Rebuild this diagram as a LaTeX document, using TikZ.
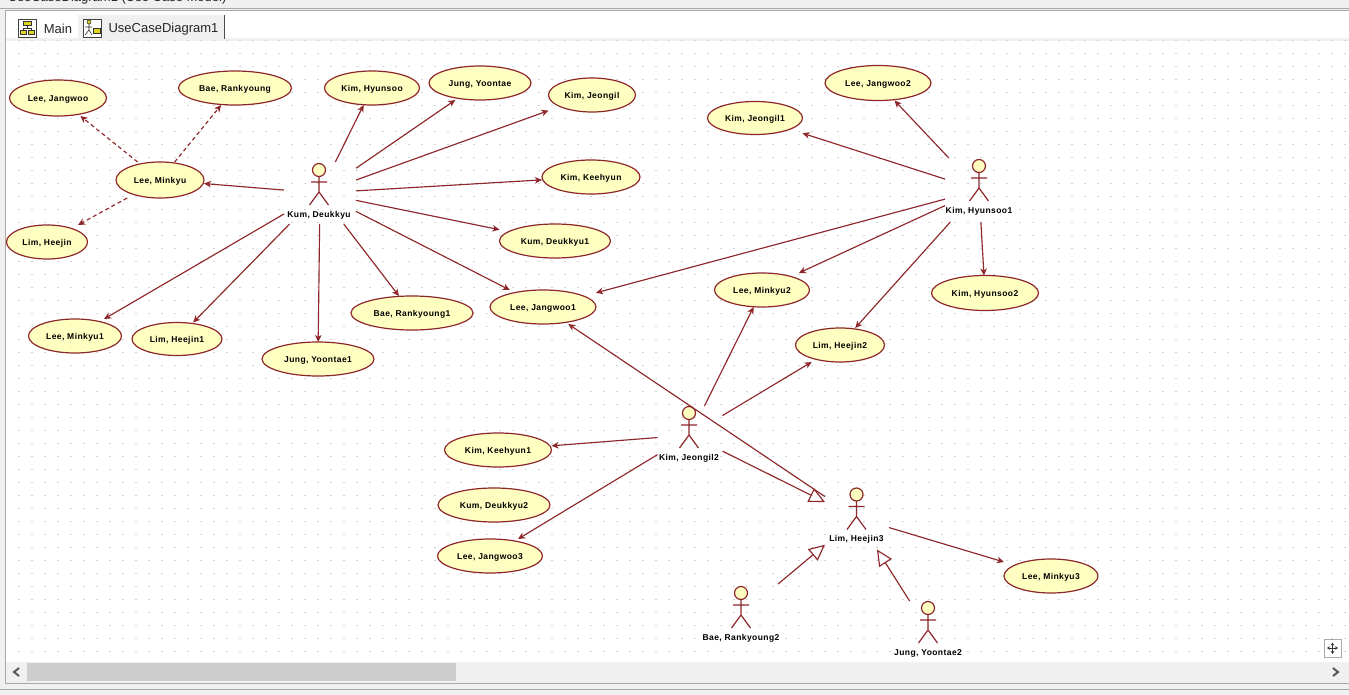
\documentclass[tikz,border=0pt]{standalone}
\usepackage{fontspec}
\setmainfont{Liberation Sans}
\newfontfamily\umlfont[LetterSpace=5]{Liberation Sans}
\usetikzlibrary{arrows.meta,shapes.geometric}
\definecolor{umlred}{HTML}{8E272B}
\definecolor{umlfill}{HTML}{FFFFC2}
\definecolor{chrome}{HTML}{F0F0F0}
\definecolor{edgegray}{HTML}{A9A9A9}
\definecolor{griddot}{HTML}{D4D4D4}
\definecolor{thumb}{HTML}{CDCDCD}
\tikzset{
  caseshape/.style={ellipse,draw=umlred,line width=1.2pt,fill=umlfill,inner sep=0pt,outer sep=0pt},
  casebox/.style={rectangle,inner sep=0pt,outer sep=0pt,text height=7.5pt,text depth=0pt,font=\umlfont\fontsize{8.5}{9}\selectfont\bfseries,text=black},
  actorbox/.style={rectangle,inner sep=0pt,outer sep=0pt},
  actorlabel/.style={inner sep=0pt,font=\umlfont\fontsize{8.5}{9}\selectfont\bfseries,text=black},
  actorline/.style={draw=umlred,line width=1.2pt},
  assoc/.style={draw=umlred,line width=1.15pt,-{Stealth[length=7pt,width=6.5pt,inset=2pt]}},
  dep/.style={assoc,dash pattern=on 4pt off 3pt},
  gen/.style={draw=umlred,line width=1.15pt,-{Triangle[open,length=16pt,width=15pt]}},
  tabtext/.style={inner sep=0pt,font=\fontsize{13}{15}\selectfont,text=black!85},
  icon/.style={draw=black!75,line width=.8pt,fill=white},
  iconbar/.style={draw=black!80,line width=.6pt,fill=yellow!85!black},
  chevron/.style={draw=black!65,line width=2pt}
}
\newcommand{\umlcase}[6]{% name, x, y, width, height, text
  \node[caseshape,minimum width=#4pt,minimum height=#5pt] (#1shape) at (#2,#3) {};
  \node[casebox,minimum width=#4pt,minimum height=#5pt] (#1) at (#2,#3) {#6};
}
\newcommand{\umlactor}[8]{% name, head x, head y, label, box x, box y, box w, box h
  \node[actorbox,minimum width=#7pt,minimum height=#8pt] (#1) at (#5,#6) {};
  \draw[actorline,fill=umlfill] (#2,#3) circle (6.5);
  \draw[actorline] (#2-8,#3+12) -- (#2+8,#3+12) (#2,#3+6.5) -- (#2,#3+22) -- (#2-9.5,#3+35) (#2,#3+22) -- (#2+9.5,#3+35);
  \node[actorlabel] (#1label) at (#2,#3+45) {#4};
}
\begin{document}
\begin{tikzpicture}[x=1pt,y=-1pt]
\useasboundingbox (0,0) rectangle (1349,695);
% window chrome
\fill[chrome] (0,0) rectangle (1349,695);
\begin{scope}
  \clip (0,0) rectangle (1349,4);
  \node[anchor=base west,inner sep=0pt,font=\fontsize{13}{15}\selectfont,text=black!85] (wintitle) at (8,2) {UseCaseDiagram1 (Use Case Model)};
\end{scope}
\draw[edgegray,line width=1pt] (0,8.5) -- (1349,8.5);
\fill[white] (5.5,11) rectangle (1349,683);
\draw[edgegray,line width=1pt] (1349,10.5) -- (5.5,10.5) -- (5.5,683.5) -- (1349,683.5);
\draw[edgegray,line width=1pt] (0,689) -- (1349,689);
% tabs
\fill[chrome] (78,15) rectangle (224,40);
\fill[chrome] (6,38.5) rectangle (1349,41);
\draw[black!70,line width=1pt] (224.5,15) -- (224.5,39);
\node[tabtext] (tabmain) at (58,29) {Main};
\node[tabtext] (tabuc) at (163.5,29) {UseCaseDiagram1};
\draw[icon] (18,19) rectangle (36,37);
\draw[iconbar] (23,21) rectangle (31,25);
\draw[iconbar] (20,30) rectangle (26,34);
\draw[iconbar] (28,30) rectangle (34,34);
\draw[black!80,line width=.6pt] (27,25) -- (27,28) (23,30) -- (23,28) -- (31,28) -- (31,30);
\draw[icon] (83,19) rectangle (101,37);
\draw[iconbar] (89,22) circle (2);
\draw[black!80,line width=.6pt] (85,27) -- (92,27) (89,24) -- (89,30) -- (85,35) (89,30) -- (92,35);
\draw[iconbar] (93,28) rectangle (100,33);
% grid of dots
\foreach \gx in {0,...,102} {
  \foreach \gy in {0,...,47} {
    \fill[griddot] ({19+13*\gx-.6},{42+13*\gy-.6}) rectangle +(1.2,-1.2);
  }
}
% scrollbar
\fill[chrome] (6,662) rectangle (1349,683);
\fill[thumb] (27,663) rectangle (456,681);
\draw[chevron] (19,668) -- (14,672) -- (19,676);
\draw[chevron] (1333,668) -- (1338,672) -- (1333,676);
% pan button
\draw[edgegray,line width=1pt,fill=white] (1324,639.5) rectangle (1341,657);
\draw[black!80,line width=.9pt,{Stealth[length=3pt,width=3.5pt]}-{Stealth[length=3pt,width=3.5pt]}] (1327,648) -- (1338,648);
\draw[black!80,line width=.9pt,{Stealth[length=3pt,width=3.5pt]}-{Stealth[length=3pt,width=3.5pt]}] (1332.5,642.5) -- (1332.5,654);
% use cases
\umlcase{ljw}{58}{98}{97}{36}{Lee, Jangwoo}
\umlcase{brk}{235}{88}{113}{34}{Bae, Rankyoung}
\umlcase{khs}{372}{88}{95}{34}{Kim, Hyunsoo}
\umlcase{jyt}{480}{83}{102}{34}{Jung, Yoontae}
\umlcase{kji}{592}{95}{87}{34}{Kim, Jeongil}
\umlcase{ljw2}{878}{83}{106}{35}{Lee, Jangwoo2}
\umlcase{kji1}{755}{118}{95}{33}{Kim, Jeongil1}
\umlcase{lmk}{160}{180}{88}{36}{Lee, Minkyu}
\umlcase{kkh}{591}{177}{98}{34}{Kim, Keehyun}
\umlcase{kdk1}{555}{241}{111}{34}{Kum, Deukkyu1}
\umlcase{lhj}{47}{242}{81}{34}{Lim, Heejin}
\umlcase{lmk1}{75}{336}{93}{34}{Lee, Minkyu1}
\umlcase{lhj1}{177}{339}{90}{33}{Lim, Heejin1}
\umlcase{jyt1}{318}{359}{112}{34}{Jung, Yoontae1}
\umlcase{brk1}{412}{313}{122}{34}{Bae, Rankyoung1}
\umlcase{ljw1}{543}{307}{106}{34}{Lee, Jangwoo1}
\umlcase{lmk2}{762}{290}{95}{34}{Lee, Minkyu2}
\umlcase{khs2}{985}{293}{107}{35}{Kim, Hyunsoo2}
\umlcase{lhj2}{840}{345}{89}{34}{Lim, Heejin2}
\umlcase{kkh1}{498}{450}{107}{34}{Kim, Keehyun1}
\umlcase{kdk2}{494}{505}{112}{34}{Kum, Deukkyu2}
\umlcase{ljw3}{490}{556}{105}{34}{Lee, Jangwoo3}
\umlcase{lmk3}{1051}{576}{94}{34}{Lee, Minkyu3}
% actors
\umlactor{kum}{319}{170}{Kum, Deukkyu}{320}{193}{72}{62}
\umlactor{hyun}{979}{166}{Kim, Hyunsoo1}{979}{190}{68}{64}
\umlactor{jeong}{689}{413}{Kim, Jeongil2}{690}{435}{65}{58}
\umlactor{hee}{856.5}{494.5}{Lim, Heejin3}{857}{518}{64}{63}
\umlactor{bae}{741}{593}{Bae, Rankyoung2}{741}{615}{74}{62}
\umlactor{jung}{928}{608}{Jung, Yoontae2}{928}{630}{72}{58}
% connectors
\foreach \t in {khs,jyt,kji,kkh,kdk1,ljw1,brk1,jyt1,lhj1,lmk1,lmk} \draw[assoc] (kum) -- (\t);
\foreach \t in {ljw,brk,lhj} \draw[dep] (lmk) -- (\t);
\foreach \t in {ljw2,kji1,ljw1,lmk2,lhj2,khs2} \draw[assoc] (hyun) -- (\t);
\foreach \t in {lmk2,lhj2,kkh1,ljw3} \draw[assoc] (jeong) -- (\t);
\draw[assoc] (hee) -- (ljw1);
\draw[assoc] (hee) -- (lmk3);
\draw[gen] (jeong) -- (hee);
\draw[gen] (bae) -- (hee);
\draw[gen] (jung) -- (hee);
\end{tikzpicture}
\end{document}
